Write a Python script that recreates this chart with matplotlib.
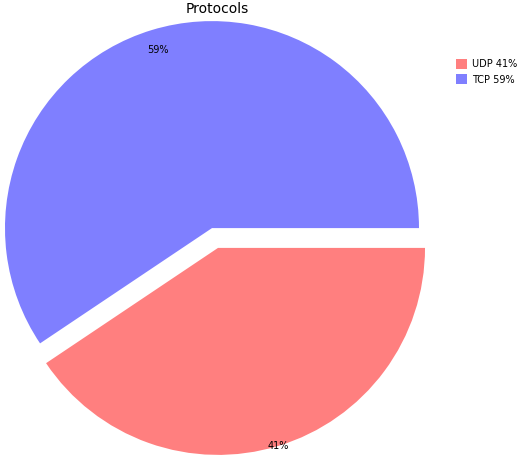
import numpy as np
import matplotlib
matplotlib.use("Agg")
import matplotlib.pyplot as plt

labels = ["UDP", "TCP"]
shares = [40.6, 59.4]
legend_pct = [41, 59]
colors = ["#ff7f7f", "#7f7fff"]
explode = [0.05, 0.05]
pct_dist = [1.0, 0.9]

W, H = 517, 466
fig = plt.figure(figsize=(W / 100, H / 100), dpi=100)
size = 2.2 * 207
ax = fig.add_axes([(215 - size / 2) / W, (228 - size / 2) / H, size / W, size / H])

wedges, texts, autotexts = ax.pie(shares, colors=colors, explode=explode,
                                  startangle=0, counterclock=False,
                                  autopct="%1.0f%%", textprops={"fontsize": 7})
for w, t, d in zip(wedges, autotexts, pct_dist):
    ang = np.deg2rad((w.theta1 + w.theta2) / 2)
    cx, cy = w.center
    t.set_position((cx + d * w.r * np.cos(ang), cy + d * w.r * np.sin(ang)))

ax.set_xlim(-1.1, 1.1)
ax.set_ylim(-1.1, 1.1)
ax.set_aspect("equal")
ax.set_title("Protocols", fontsize=10, x=0.5055, y=0.994, pad=0)

fig.legend(wedges, [f"{l} {p}%" for l, p in zip(labels, legend_pct)],
           loc="upper left", bbox_to_anchor=(447 / W, 1 - 50 / H),
           frameon=False, fontsize=7, handlelength=1.2, handleheight=1.2,
           handletextpad=0.5, labelspacing=0.55)

fig.savefig("out.png", dpi=100)
